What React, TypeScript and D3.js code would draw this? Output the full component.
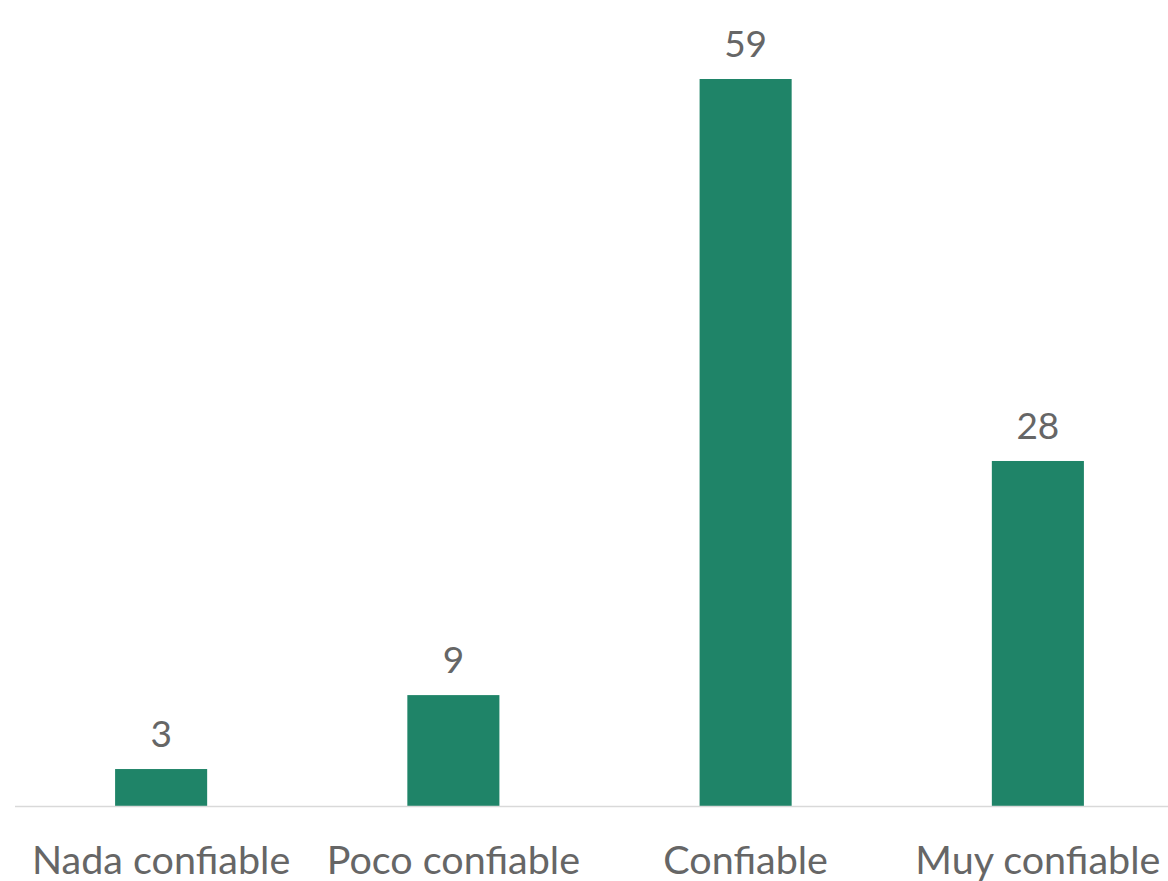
import React from "react";
import * as d3 from "d3";

const categories = ["Nada confiable", "Poco confiable", "Confiable", "Muy confiable"];
const values = [3, 9, 59, 28];

const W = 1168;
const H = 881;

export default function App() {
  const x = d3
    .scaleBand<string>()
    .domain(categories)
    .range([15, 1184])
    .paddingInner(0.685)
    .paddingOuter(0.3425);
  const y = d3.scaleLinear().domain([0, 59]).range([806, 79]);
  const font = "Lato, 'Open Sans', sans-serif";
  return (
    <div style={{ position: "absolute", left: 0, top: 0, width: W, height: H, background: "#fff" }}>
      <svg width={W} height={H} style={{ display: "block", overflow: "hidden" }}>
        <rect x={0} y={0} width={W} height={H} fill="#fff" />
        {categories.map((c, i) => (
          <rect
            key={c}
            x={x(c)!}
            y={y(values[i])}
            width={x.bandwidth()}
            height={y(0) - y(values[i])}
            fill="#1F8468"
          />
        ))}
        <line x1={15} x2={W} y1={y(0) + 0.5} y2={y(0) + 0.5} stroke="#D9D9D9" strokeWidth={1.5} />
        {categories.map((c, i) => (
          <text
            key={"v" + c}
            x={x(c)! + x.bandwidth() / 2}
            y={y(values[i]) - 22}
            textAnchor="middle"
            fontFamily={font}
            fontSize={37}
            fill="#666666"
          >
            {values[i]}
          </text>
        ))}
        {categories.map((c) => (
          <text
            key={"l" + c}
            x={x(c)! + x.bandwidth() / 2}
            y={874}
            textAnchor="middle"
            fontFamily={font}
            fontSize={39.5}
            fill="#666666"
          >
            {c}
          </text>
        ))}
      </svg>
    </div>
  );
}
